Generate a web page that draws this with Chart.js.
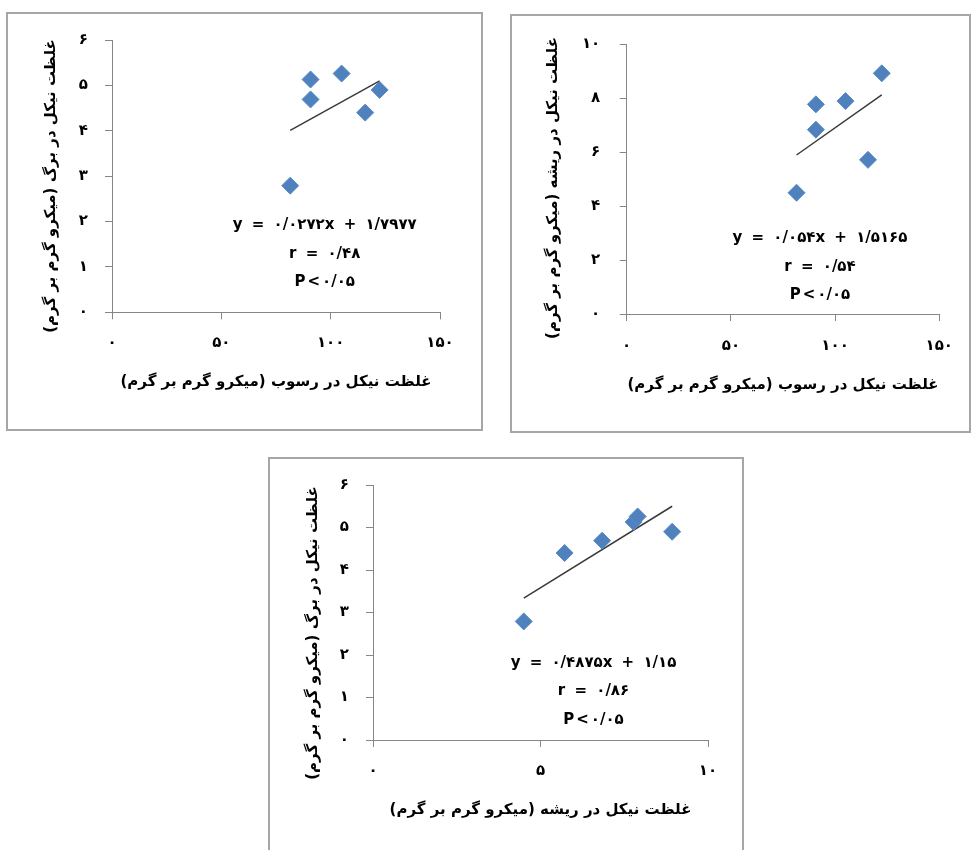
<!DOCTYPE html>
<html><head><meta charset="utf-8">
<script src="https://cdn.jsdelivr.net/npm/chart.js@4/dist/chart.umd.min.js"></script>
<style>
html,body{margin:0;padding:0;background:#fff;}
body{width:971px;height:850px;position:relative;overflow:hidden;}
.box{position:absolute;box-sizing:border-box;border:2px solid #a6a6a6;background:#fff;}
.box canvas{position:absolute;left:0;top:0;}
</style></head><body>
<div class="box" style="left:6px;top:12px;width:477px;height:419px;"><canvas id="c1" width="473" height="415" style="width:473px;height:415px"></canvas></div>
<div class="box" style="left:510px;top:14px;width:461px;height:419px;"><canvas id="c2" width="457" height="415" style="width:457px;height:415px"></canvas></div>
<div class="box" style="left:268px;top:457px;width:476px;height:400px;"><canvas id="c3" width="472" height="396" style="width:472px;height:396px"></canvas></div>
<script>
// ---- data ----
const sedimentNi = [81.5, 90.8, 90.8, 105.0, 115.8, 122.4];   // x of charts 1 & 2
const leafNi     = [2.79, 5.13, 4.69, 5.26, 4.40, 4.90];        // y of charts 1 & 3
const rootNi     = [4.50, 7.78, 6.84, 7.90, 5.72, 8.93];        // y of chart 2, x of chart 3

const trend1X = [81.5, 122.4], trend1Y = [4.01, 5.10];
const trend2X = [81.5, 122.4], trend2Y = [5.90, 8.13];
const trend3X = [4.50, 8.93],  trend3Y = [3.34, 5.50];

const x1Ticks = [0, 50, 100, 150], y1Ticks = [0, 1, 2, 3, 4, 5, 6];
const x2Ticks = [0, 50, 100, 150], y2Ticks = [0, 2, 4, 6, 8, 10];
const x3Ticks = [0, 5, 10],        y3Ticks = [0, 1, 2, 3, 4, 5, 6];

const eq1 = ['y = ۰/۰۲۷۲x + ۱/۷۹۷۷', 'r = ۰/۴۸', 'P<۰/۰۵'];
const eq2 = ['y = ۰/۰۵۴x + ۱/۵۱۶۵', 'r = ۰/۵۴', 'P<۰/۰۵'];
const eq3 = ['y = ۰/۴۸۷۵x + ۱/۱۵', 'r = ۰/۸۶', 'P<۰/۰۵'];

const titleSediment = 'غلظت نیکل در رسوب (میکرو گرم بر گرم)';
const titleLeaf     = 'غلظت نیکل در برگ (میکرو گرم بر گرم)';
const titleRoot     = 'غلظت نیکل در ریشه (میکرو گرم بر گرم)';

// ---- helpers ----
const FONT = '"DejaVu Sans", sans-serif';
Chart.defaults.font.family = FONT;
Chart.defaults.color = '#000';
const rtl = s => '\u202B' + s + '\u202C';
const fa = v => String(v).replace(/\d/g, d => '۰۱۲۳۴۵۶۷۸۹'[d]);
const pts = (xs, ys) => xs.map((x, i) => ({x: x, y: ys[i]}));
const TFS = 15;  // title font size

const textPlugin = {
  id: 'txt',
  afterDatasetsDraw(chart, args, o) {
    const ctx = chart.ctx;
    ctx.save();
    ctx.fillStyle = '#000';
    ctx.textAlign = 'center';
    ctx.textBaseline = 'middle';
    ctx.direction = 'ltr';
    ctx.font = o.eqFont;
    if ('letterSpacing' in ctx) ctx.letterSpacing = '2px';
    o.lines.forEach((t, i) => ctx.fillText(t, o.eqX, o.eqY[i]));
    if ('letterSpacing' in ctx) ctx.letterSpacing = '0px';
    ctx.translate(o.yTitleX, o.yTitleY);
    ctx.rotate(-Math.PI / 2);
    ctx.font = o.titleFont;
    ctx.fillText(rtl(o.yTitle), 0, 0);
    ctx.restore();
  }
};

function build(id, o) {
  const canvas = document.getElementById(id);
  const H = canvas.height, W = canvas.width;
  const tlh = TFS * 1.2, tpad = 4;
  const padL = 10;
  const padB = H - (o.xTitleY + tlh / 2 + tpad);
  const yW = o.plot.l - padL;
  const xH = (H - padB) - o.plot.b;
  const axisColor = '#868686';
  const tickFont = {size: 15, weight: 'bold'};
  const common = {
    type: 'linear',
    grid: {drawOnChartArea: false, drawTicks: true, tickLength: 7, color: axisColor, tickWidth: 1},
    border: {display: true, color: axisColor, width: 1}
  };
  return new Chart(canvas, {
    type: 'scatter',
    data: {
      datasets: [
        {data: pts(o.xs, o.ys), pointStyle: 'rectRot', pointRadius: 8.5, pointHoverRadius: 8.5,
         backgroundColor: '#4F81BD', borderColor: '#5a8ac4', borderWidth: 1, order: 1},
        {data: pts(o.tx, o.ty), showLine: true, pointRadius: 0, borderColor: '#3a3a3a',
         borderWidth: 1.5, fill: false, order: 2}
      ]
    },
    options: {
      responsive: false, animation: false, events: [],
      layout: {padding: {left: padL, right: W - o.plot.r, top: o.plot.t, bottom: padB}},
      plugins: {
        legend: {display: false}, tooltip: {enabled: false},
        txt: {lines: o.eq, eqX: o.eqX, eqY: o.eqY, eqFont: 'bold 15px ' + FONT,
              yTitle: o.yTitle, yTitleX: o.yTitleX, yTitleY: o.yTitleY, titleFont: 'bold ' + TFS + 'px ' + FONT}
      },
      scales: {
        x: Object.assign({}, common, {
          position: 'bottom', min: o.xTicks[0], max: o.xTicks[o.xTicks.length - 1],
          afterBuildTicks: s => { s.ticks = o.xTicks.map(v => ({value: v})); },
          afterFit: s => { s.height = xH; },
          ticks: {padding: o.xPad, font: tickFont, maxRotation: 0, callback: v => fa(v)},
          title: {display: true, text: rtl(o.xTitle), font: {size: TFS, weight: 'bold'}, padding: {top: 4, bottom: tpad}}
        }),
        y: Object.assign({}, common, {
          position: 'left', min: o.yTicks[0], max: o.yTicks[o.yTicks.length - 1],
          afterBuildTicks: s => { s.ticks = o.yTicks.map(v => ({value: v})); },
          afterFit: s => { s.width = yW; },
          ticks: {padding: o.yPad, font: tickFont, callback: v => fa(v)},
          title: {display: false}
        })
      }
    },
    plugins: [textPlugin]
  });
}

build('c1', {
  xs: sedimentNi, ys: leafNi, tx: trend1X, ty: trend1Y,
  xTicks: x1Ticks, yTicks: y1Ticks, xTitle: titleSediment, yTitle: titleLeaf, eq: eq1,
  plot: {l: 104, r: 432, t: 20.3, b: 298.3}, xTitleY: 367.7, yTitleX: 43, yTitleY: 172,
  xPad: 15, yPad: 17, eqX: 316.7, eqY: [211, 240, 268.5]
});
build('c2', {
  xs: sedimentNi, ys: rootNi, tx: trend2X, ty: trend2Y,
  xTicks: x2Ticks, yTicks: y2Ticks, xTitle: titleSediment, yTitle: titleRoot, eq: eq2,
  plot: {l: 114.7, r: 431.3, t: 23, b: 298}, xTitleY: 369, yTitleX: 41, yTitleY: 172,
  xPad: 16, yPad: 19.5, eqX: 308, eqY: [222.5, 251, 279.5]
});
build('c3', {
  xs: rootNi, ys: leafNi, tx: trend3X, ty: trend3Y,
  xTicks: x3Ticks, yTicks: y3Ticks, xTitle: titleRoot, yTitle: titleLeaf, eq: eq3,
  plot: {l: 103, r: 438, t: 22.7, b: 281}, xTitleY: 351, yTitleX: 43, yTitleY: 174,
  xPad: 15, yPad: 17, eqX: 323.5, eqY: [204, 232.5, 261]
});
</script>
</body></html>
